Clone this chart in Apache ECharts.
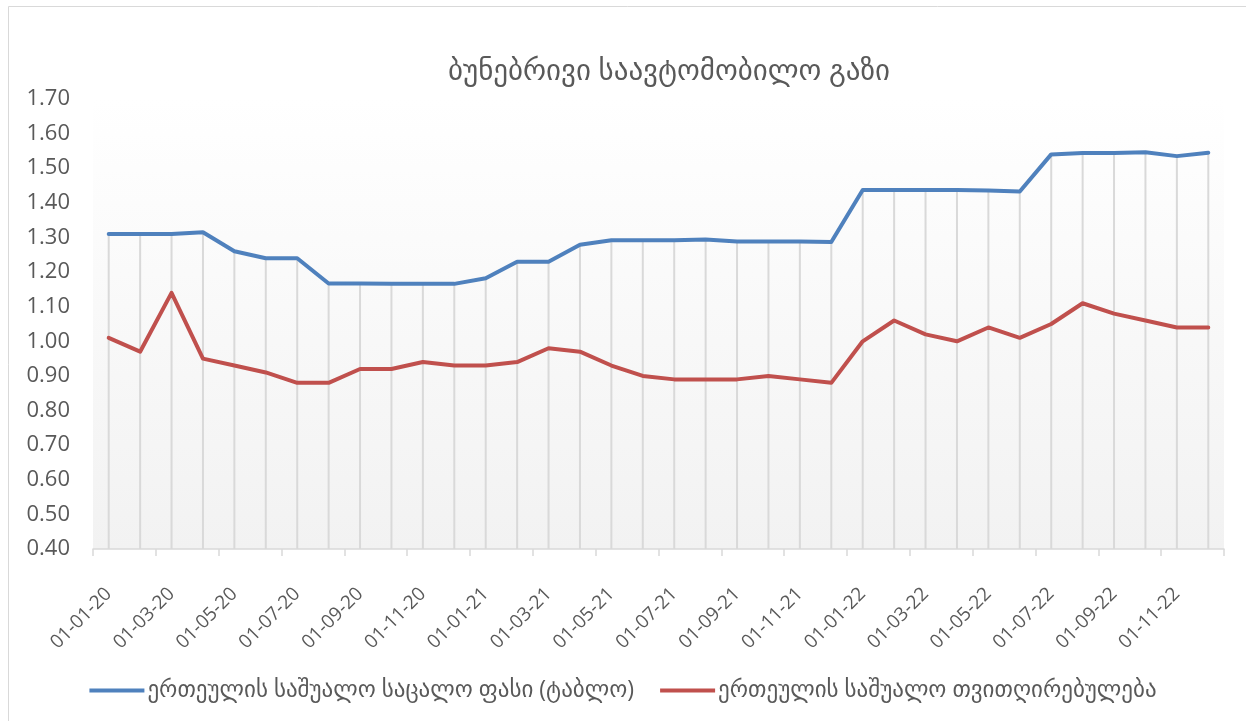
<!DOCTYPE html>
<html>
<head>
<meta charset="utf-8">
<style>
  html, body { margin: 0; padding: 0; background: #fff; }
  #chart { width: 1246px; height: 721px; }
</style>
<script src="https://cdn.jsdelivr.net/npm/echarts@6/dist/echarts.min.js"></script>
</head>
<body>
<div id="chart"></div>
<script>
// თვეები 01-01-20 ... 01-12-22
const months = [
  '01-01-20', '01-02-20', '01-03-20', '01-04-20', '01-05-20', '01-06-20',
  '01-07-20', '01-08-20', '01-09-20', '01-10-20', '01-11-20', '01-12-20',
  '01-01-21', '01-02-21', '01-03-21', '01-04-21', '01-05-21', '01-06-21',
  '01-07-21', '01-08-21', '01-09-21', '01-10-21', '01-11-21', '01-12-21',
  '01-01-22', '01-02-22', '01-03-22', '01-04-22', '01-05-22', '01-06-22',
  '01-07-22', '01-08-22', '01-09-22', '01-10-22', '01-11-22', '01-12-22'
]
// საცალო ფასი (ტაბლო)
const retailPrice = [
  1.31, 1.31, 1.31, 1.315, 1.26, 1.24,
  1.24, 1.167, 1.167, 1.166, 1.166, 1.166,
  1.182, 1.23, 1.23, 1.279, 1.292, 1.292,
  1.292, 1.294, 1.288, 1.288, 1.288, 1.287,
  1.437, 1.437, 1.437, 1.437, 1.436, 1.433,
  1.54, 1.544, 1.544, 1.546, 1.535, 1.545
]
// თვითღირებულება
const unitCost = [
  1.01, 0.97, 1.14, 0.95, 0.93, 0.91,
  0.88, 0.88, 0.92, 0.92, 0.94, 0.93,
  0.93, 0.94, 0.98, 0.97, 0.93, 0.90,
  0.89, 0.89, 0.89, 0.90, 0.89, 0.88,
  1.00, 1.06, 1.02, 1.00, 1.04, 1.01,
  1.05, 1.11, 1.08, 1.06, 1.04, 1.04
]
const seriesNames = [
  'ერთეულის საშუალო საცალო ფასი (ტაბლო)',
  'ერთეულის საშუალო თვითღირებულება'
]
const titleText = 'ბუნებრივი საავტომობილო გაზი'

const font = "'Open Sans', 'DejaVu Sans', sans-serif"
const textColor = '#595959'
const yMin = 0.4

const chart = echarts.init(document.getElementById('chart'))
chart.setOption({
  animation: false,
  backgroundColor: '#ffffff',
  textStyle: { fontFamily: font },
  graphic: [{
    type: 'rect',
    shape: { x: 8.5, y: 6.5, width: 1400, height: 900 },
    style: { fill: 'none', stroke: '#d9d9d9', lineWidth: 1 },
    silent: true
  }],
  title: {
    text: titleText,
    left: 664,
    textAlign: 'center',
    top: 52,
    textStyle: { fontFamily: font, fontSize: 29, fontWeight: 'normal', color: textColor }
  },
  legend: {
    bottom: 14,
    left: 'center',
    icon: 'rect',
    itemWidth: 55,
    itemHeight: 4,
    itemGap: 26,
    textStyle: { fontFamily: font, fontSize: 23, color: textColor, padding: [0, 0, 0, -2] },
    data: seriesNames
  },
  grid: {
    left: 93, right: 22, top: 99, bottom: 172,
    show: true,
    borderWidth: 0,
    backgroundColor: new echarts.graphic.LinearGradient(0, 0, 0, 1, [
      { offset: 0, color: '#ffffff' },
      { offset: 1, color: '#f2f2f2' }
    ])
  },
  xAxis: {
    type: 'category',
    data: months,
    boundaryGap: true,
    axisLine: { lineStyle: { color: '#d9d9d9', width: 1.5 } },
    axisTick: { show: true, interval: 1, length: 7, lineStyle: { color: '#d9d9d9', width: 1.5 } },
    axisLabel: { interval: 1, rotate: 45, margin: 42, fontSize: 19, color: textColor, fontFamily: font },
    splitLine: { show: false }
  },
  yAxis: {
    type: 'value',
    min: yMin,
    max: 1.7,
    interval: 0.1,
    axisLine: { show: false },
    axisTick: { show: false },
    splitLine: { show: false },
    axisLabel: {
      fontSize: 22, color: textColor, fontFamily: font, margin: 23,
      formatter: v => v.toFixed(2)
    }
  },
  series: [
    {
      // ვერტიკალური ხაზები წერტილიდან ღერძამდე
      type: 'custom',
      silent: true,
      z: 1,
      data: retailPrice.map((v, i) => [i, v]),
      renderItem: (params, api) => {
        const top = api.coord([api.value(0), api.value(1)])
        const bottom = api.coord([api.value(0), yMin])
        return {
          type: 'line',
          shape: { x1: top[0], y1: top[1], x2: bottom[0], y2: bottom[1] },
          style: { stroke: '#d9d9d9', lineWidth: 2 }
        }
      }
    },
    {
      name: seriesNames[0],
      type: 'line',
      data: retailPrice,
      z: 3,
      symbol: 'none',
      itemStyle: { color: '#4f81bd' },
      lineStyle: { color: '#4f81bd', width: 4, join: 'round', cap: 'round' }
    },
    {
      name: seriesNames[1],
      type: 'line',
      data: unitCost,
      z: 3,
      symbol: 'none',
      itemStyle: { color: '#c0504d' },
      lineStyle: { color: '#c0504d', width: 4, join: 'round', cap: 'round' }
    }
  ]
})
</script>
</body>
</html>
